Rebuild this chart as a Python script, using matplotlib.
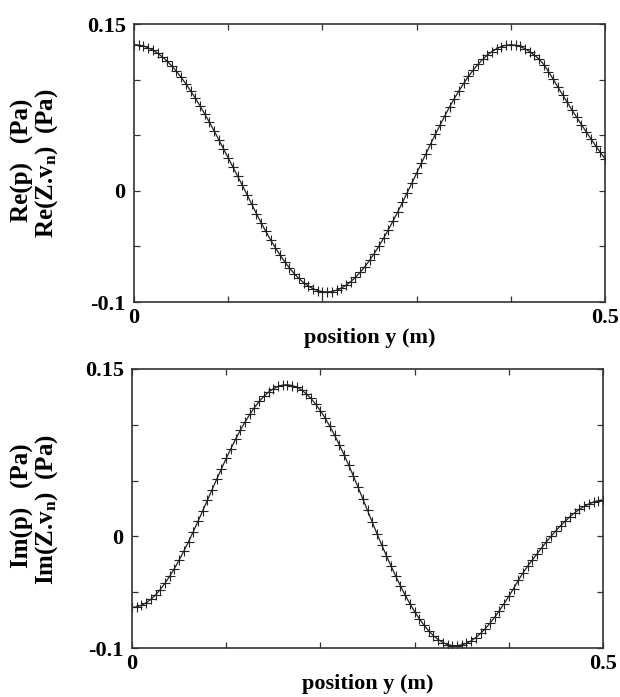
import numpy as np
import matplotlib.pyplot as plt

plt.rcParams['font.family'] = ['Liberation Serif', 'DejaVu Serif']
plt.rcParams['font.weight'] = 'bold'
plt.rcParams['mathtext.fontset'] = 'custom'
plt.rcParams['mathtext.rm'] = 'Liberation Serif:bold'
plt.rcParams['mathtext.default'] = 'rm'

# positions along the plate, one marker every 5 mm
pos_y = [i * 0.005 for i in range(101)]

# real part of the pressure (Pa)
re_p = [0.1314, 0.1311, 0.1302, 0.1286, 0.1265, 0.1238, 0.1205, 0.1167, 0.1123, 0.1075,
        0.1021, 0.0963, 0.0900, 0.0834, 0.0765, 0.0692, 0.0617, 0.0540, 0.0459, 0.0378,
        0.0296, 0.0214, 0.0131, 0.0049, -0.0035, -0.0121, -0.0206, -0.0288, -0.0366, -0.0441,
        -0.0511, -0.0577, -0.0638, -0.0694, -0.0744, -0.0788, -0.0825, -0.0856, -0.0880, -0.0897,
        -0.0907, -0.0910, -0.0906, -0.0894, -0.0876, -0.0850, -0.0818, -0.0779, -0.0734, -0.0683,
        -0.0626, -0.0564, -0.0497, -0.0426, -0.0350, -0.0271, -0.0189, -0.0104, -0.0017, 0.0070,
        0.0158, 0.0247, 0.0335, 0.0423, 0.0509, 0.0592, 0.0675, 0.0754, 0.0829, 0.0899,
        0.0966, 0.1028, 0.1085, 0.1136, 0.1181, 0.1220, 0.1252, 0.1278, 0.1297, 0.1309,
        0.1314, 0.1310, 0.1298, 0.1278, 0.1252, 0.1220, 0.1185, 0.1135, 0.1072, 0.1003,
        0.0933, 0.0864, 0.0795, 0.0727, 0.0660, 0.0595, 0.0531, 0.0468, 0.0406, 0.0346,
        0.0288]

# imaginary part of the pressure (Pa)
im_p = [-0.0636, -0.0631, -0.0618, -0.0595, -0.0564, -0.0524, -0.0476, -0.0420, -0.0357, -0.0288,
        -0.0213, -0.0132, -0.0048, 0.0042, 0.0134, 0.0228, 0.0323, 0.0419, 0.0514, 0.0607,
        0.0699, 0.0787, 0.0872, 0.0952, 0.1025, 0.1093, 0.1155, 0.1209, 0.1255, 0.1294,
        0.1323, 0.1344, 0.1356, 0.1359, 0.1352, 0.1337, 0.1312, 0.1278, 0.1236, 0.1185,
        0.1126, 0.1060, 0.0987, 0.0908, 0.0823, 0.0733, 0.0639, 0.0541, 0.0440, 0.0337,
        0.0233, 0.0129, 0.0025, -0.0075, -0.0172, -0.0266, -0.0357, -0.0444, -0.0526, -0.0603,
        -0.0674, -0.0738, -0.0796, -0.0846, -0.0889, -0.0924, -0.0951, -0.0969, -0.0978, -0.0979,
        -0.0972, -0.0958, -0.0936, -0.0906, -0.0870, -0.0827, -0.0778, -0.0724, -0.0665, -0.0602,
        -0.0537, -0.0468, -0.0395, -0.0328, -0.0266, -0.0211, -0.0156, -0.0101, -0.0048, 0.0003,
        0.0051, 0.0096, 0.0138, 0.0177, 0.0212, 0.0242, 0.0269, 0.0291, 0.0308, 0.0320,
        0.0328]

y_ticks = [-0.1, -0.05, 0, 0.05, 0.1, 0.15]
y_ticklabels = ['-0.1', '', '0', '', '', '0.15']
x_ticks = [0, 0.1, 0.2, 0.3, 0.4, 0.5]
x_ticklabels = ['0', '', '', '', '', '0.5']

W, H = 620, 697
fig = plt.figure(figsize=(W / 100, H / 100), dpi=100)
fig.patch.set_facecolor('white')

ax1 = fig.add_axes([134 / W, 1 - 302 / H, (605 - 134) / W, (302 - 24) / H])
ax2 = fig.add_axes([132 / W, 1 - 648 / H, (603 - 132) / W, (648 - 369) / H])

for ax, vals in [(ax1, re_p), (ax2, im_p)]:
    ax.plot(pos_y, vals, color='#222222', lw=0.9, marker='+', ms=7.5, mew=0.8)
    ax.set_xlim(0, 0.5)
    ax.set_ylim(-0.1, 0.15)
    ax.set_yticks(y_ticks)
    ax.set_yticklabels(y_ticklabels)
    ax.set_xticks(x_ticks)
    ax.set_xticklabels(x_ticklabels)
    ax.tick_params(direction='in', top=True, right=True, length=4, width=0.9,
                   labelsize=16, color='#333333')
    ax.tick_params(axis='y', pad=6)
    ax.tick_params(axis='x', pad=4)
    for s in ax.spines.values():
        s.set_linewidth(1.2)
        s.set_color('#333333')
    ax.set_xlabel('position y (m)', fontsize=16, fontweight='bold', labelpad=0)

# two-line y labels
lab = dict(rotation=90, fontsize=18, fontweight='bold', ha='center', va='center')
fig.text(22 / W, 1 - 160 / H, 'Re(p)   (Pa)', **lab)
fig.text(47 / W, 1 - 163 / H, 'Re(Z.v$_n$)  (Pa)', **lab)
fig.text(22 / W, 1 - 506 / H, 'Im(p)   (Pa)', **lab)
fig.text(47 / W, 1 - 509 / H, 'Im(Z.v$_n$)  (Pa)', **lab)

fig.savefig('out.png', dpi=100)
